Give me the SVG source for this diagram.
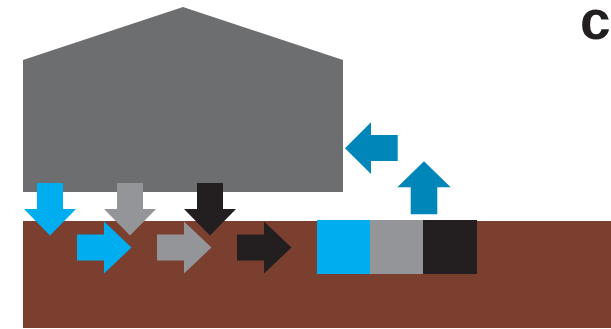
<svg xmlns="http://www.w3.org/2000/svg" width="611" height="329" viewBox="0 0 611 329">
<style>
.blue{fill:#00aeef}.gray{fill:#939598}.black{fill:#231f20}.teal{fill:#0086b8}
</style>
<defs>
<path id="down" d="M-13,0 H13 V26 H26 L0,52.5 L-26,26 H-13 Z"/>
<path id="right" d="M0,-13 H27 V-26 L54.5,0 L27,26 V13 H0 Z"/>
</defs>
<rect id="ground" x="23" y="221" width="588" height="107" fill="#7a3f2f"/>
<polygon id="house" points="23,60 183,7 343,60 343,192 23,192" fill="#6d6e70"/>
<g id="connectors">
<use href="#down" class="blue" x="50" y="183"/>
<use href="#down" class="gray" x="130" y="183"/>
<use href="#down" class="black" x="210" y="183"/>
<use href="#right" class="blue" x="77" y="247.5"/>
<use href="#right" class="gray" x="157" y="247.5"/>
<use href="#right" class="black" x="237" y="247.5"/>
<path class="teal" d="M345,148.3 L371,122.3 V135 H397.7 V161 H371 V174 Z"/>
<path class="teal" d="M424,161.3 L450.7,187.3 H437.3 V214.3 H410.7 V187.3 H397.3 Z"/>
</g>
<g id="bins">
<rect class="blue" x="317" y="220" width="53" height="54"/>
<rect class="gray" x="370" y="220" width="53" height="54"/>
<rect class="black" x="423" y="220" width="54" height="54"/>
</g>
<text x="580" y="39" font-family="Liberation Sans, Arial, sans-serif" font-weight="bold" font-size="55" fill="#231f20">c</text>
</svg>
